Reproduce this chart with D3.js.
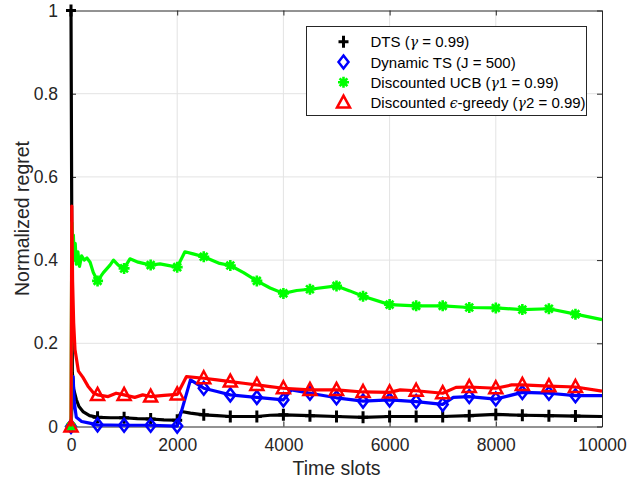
<!DOCTYPE html>
<html>
<head>
<meta charset="utf-8">
<title>Normalized regret</title>
<script src="https://d3js.org/d3.v7.min.js"></script>
<style>
*{ margin:0; padding:0; }
body{ background:#fff; }
svg{ display:block; font-family:"Liberation Sans", Arial, Helvetica, sans-serif; }
</style>
</head>
<body>
<script>
// data: [time slot, normalized regret]
var dts = [[0,1],[25,0.13],[50,0.09],[100,0.065],[150,0.048],[225,0.036],[350,0.026],[500,0.022],
  [750,0.021],[1000,0.021],[1250,0.019],[1500,0.018],[1750,0.016],[2000,0.015],[2080,0.036],
  [2250,0.032],[2500,0.028],[2750,0.026],[3000,0.024],[3500,0.024],[3750,0.027],[4000,0.028],
  [4500,0.026],[5000,0.024],[5500,0.022],[6000,0.024],[6500,0.024],[7000,0.024],[7500,0.026],
  [8000,0.029],[8500,0.027],[9000,0.026],[9500,0.025],[10000,0.024]];

var dynTS = [[0,0],[20,0.05],[40,0.12],[60,0.06],[100,0.022],[200,0.012],[350,0.008],[500,0.004],
  [1000,0.003],[1500,0.003],[2000,0.001],[2250,0.112],[2500,0.092],[2750,0.084],[3000,0.076],
  [3500,0.07],[4000,0.064],[4150,0.088],[4500,0.08],[5000,0.069],[5500,0.061],[6000,0.064],
  [6500,0.06],[7000,0.053],[7200,0.07],[7500,0.072],[8000,0.066],[8500,0.082],[9000,0.08],
  [9500,0.074],[10000,0.074]];

var dUCB = [[0,0],[15,0.49],[30,0.43],[45,0.46],[60,0.4],[80,0.44],[100,0.39],[130,0.42],[160,0.385],
  [200,0.41],[250,0.4],[300,0.405],[360,0.395],[420,0.37],[500,0.35],[610,0.37],[735,0.388],
  [800,0.4],[890,0.388],[1000,0.38],[1110,0.403],[1265,0.395],[1500,0.388],[1675,0.391],
  [2000,0.383],[2145,0.42],[2300,0.415],[2500,0.408],[2800,0.392],[3000,0.387],[3250,0.37],
  [3500,0.35],[3750,0.333],[4000,0.32],[4250,0.327],[4500,0.33],[5000,0.338],[5250,0.326],
  [5500,0.313],[6000,0.293],[6500,0.29],[7000,0.29],[7500,0.286],[8000,0.285],[8500,0.281],
  [9000,0.283],[9500,0.27],[10000,0.257]];

var dEps = [[0,0],[15,0.53],[30,0.35],[50,0.25],[75,0.185],[140,0.133],[225,0.118],[320,0.097],
  [420,0.081],[500,0.076],[700,0.072],[850,0.08],[1000,0.076],[1200,0.07],[1350,0.076],[1500,0.072],
  [1750,0.075],[2000,0.077],[2175,0.12],[2500,0.116],[2750,0.112],[3000,0.108],[3250,0.104],
  [3500,0.1],[3750,0.096],[4000,0.092],[4500,0.088],[5000,0.088],[5500,0.083],[6000,0.082],
  [6200,0.088],[6500,0.086],[7000,0.08],[7250,0.094],[7500,0.095],[8000,0.092],[8300,0.1],
  [8500,0.1],[9000,0.097],[9500,0.095],[10000,0.085]];

var xTicks = [0,2000,4000,6000,8000,10000];
var yTicks = [0,0.2,0.4,0.6,0.8,1];

var series = [
  {name:'dts',   data:dts,   color:'#000000', marker:'plus'},
  {name:'dyn',   data:dynTS, color:'#0000ff', marker:'diamond'},
  {name:'ucb',   data:dUCB,  color:'#00ff00', marker:'star'},
  {name:'eps',   data:dEps,  color:'#ff0000', marker:'triangle'}
];

var width = 640, height = 489;
var mLeft = 71, mRight = 602, mTop = 10.5, mBottom = 426.5;
var axisColor = '#262626';

var svg = d3.select('body').append('svg')
  .attr('width', width).attr('height', height);

var x = d3.scaleLinear().domain([0,10000]).range([mLeft,mRight]);
var y = d3.scaleLinear().domain([0,1]).range([mBottom,mTop]);

// grid
svg.append('g').selectAll('line').data(xTicks.slice(1,-1)).enter().append('line')
  .attr('x1', d=>x(d)).attr('x2', d=>x(d)).attr('y1', mTop).attr('y2', mBottom)
  .attr('stroke', '#e3e3e3').attr('stroke-width', 1);
svg.append('g').selectAll('line').data(yTicks.slice(1,-1)).enter().append('line')
  .attr('y1', d=>y(d)).attr('y2', d=>y(d)).attr('x1', mLeft).attr('x2', mRight)
  .attr('stroke', '#e3e3e3').attr('stroke-width', 1);

// axes with inward ticks on all sides
var fmtY = d => d === 0 ? '0' : (d === 1 ? '1' : d3.format('.1f')(d));
var gx = svg.append('g').attr('transform', 'translate(0,' + mBottom + ')')
  .call(d3.axisBottom(x).tickValues(xTicks).tickSizeInner(-5).tickSizeOuter(0).tickPadding(12).tickFormat(d3.format('d')));
var gxt = svg.append('g').attr('transform', 'translate(0,' + mTop + ')')
  .call(d3.axisTop(x).tickValues(xTicks).tickSizeInner(-5).tickSizeOuter(0).tickFormat(''));
var gy = svg.append('g').attr('transform', 'translate(' + mLeft + ',0)')
  .call(d3.axisLeft(y).tickValues(yTicks).tickSizeInner(-5).tickSizeOuter(0).tickPadding(13).tickFormat(fmtY));
var gyr = svg.append('g').attr('transform', 'translate(' + mRight + ',0)')
  .call(d3.axisRight(y).tickValues(yTicks).tickSizeInner(-5).tickSizeOuter(0).tickFormat(''));
[gx,gxt,gy,gyr].forEach(function(g){
  g.selectAll('path,line').attr('stroke', axisColor);
  g.selectAll('text').attr('fill', axisColor).style('font-size','17.5px')
    .style('font-family','"Liberation Sans", Arial, sans-serif');
});

// markers
function drawMarker(g, type, color, cx, cy) {
  if (type === 'plus') {
    g.append('path').attr('d', 'M' + (cx-5) + ',' + cy + 'H' + (cx+5) + 'M' + cx + ',' + (cy-6) + 'V' + (cy+6))
      .attr('stroke', color).attr('stroke-width', 3).attr('fill', 'none');
  } else if (type === 'diamond') {
    g.append('path').attr('d', 'M' + cx + ',' + (cy-6.5) + 'L' + (cx+5) + ',' + cy + 'L' + cx + ',' + (cy+6.5) + 'L' + (cx-5) + ',' + cy + 'Z')
      .attr('stroke', color).attr('stroke-width', 2.5).attr('fill', 'none');
  } else if (type === 'triangle') {
    g.append('path').attr('d', 'M' + cx + ',' + (cy-7) + 'L' + (cx+6.5) + ',' + (cy+5) + 'L' + (cx-6.5) + ',' + (cy+5) + 'Z')
      .attr('stroke', color).attr('stroke-width', 2.5).attr('fill', 'none').attr('stroke-linejoin','miter');
  } else if (type === 'star') {
    var r = 5.5, p = '';
    for (var k = 0; k < 4; k++) {
      var a = k * Math.PI / 4;
      p += 'M' + (cx - r*Math.cos(a)) + ',' + (cy - r*Math.sin(a)) + 'L' + (cx + r*Math.cos(a)) + ',' + (cy + r*Math.sin(a));
    }
    g.append('path').attr('d', p).attr('stroke', color).attr('stroke-width', 2.6).attr('fill', 'none');
    g.append('circle').attr('cx', cx).attr('cy', cy).attr('r', 3.2).attr('fill', color);
  }
}

var line = d3.line().x(d=>x(d[0])).y(d=>y(d[1]));
var plot = svg.append('g');
series.forEach(function(s){
  var g = plot.append('g');
  g.append('path').datum(s.data).attr('d', line)
    .attr('fill', 'none').attr('stroke', s.color).attr('stroke-width', 3.2)
    .attr('stroke-linejoin', 'round');
  s.data.filter(d => d[0] % 500 === 0 && d[0] < 10000).forEach(function(d){
    drawMarker(g, s.marker, s.color, x(d[0]), y(d[1]));
  });
});

// axis labels
svg.append('text').attr('x', (mLeft+mRight)/2).attr('y', 475).attr('text-anchor','middle')
  .attr('fill', axisColor).style('font-size','19.5px').text('Time slots');
svg.append('text').attr('transform', 'translate(29,' + ((mTop+mBottom)/2) + ') rotate(-90)')
  .attr('text-anchor','middle').attr('fill', axisColor).style('font-size','19.5px').text('Normalized regret');

// legend
var lg = svg.append('g');
lg.append('rect').attr('x', 306.5).attr('y', 26.5).attr('width', 280).attr('height', 89)
  .attr('fill', '#fff').attr('stroke', axisColor).attr('stroke-width', 1);
var legendRows = [
  {s:series[0], parts:[['DTS (',0],['\u03b3',1],[' = 0.99)',0]]},
  {s:series[1], parts:[['Dynamic TS (J = 500)',0]]},
  {s:series[2], parts:[['Discounted UCB (',0],['\u03b3',1],['1 = 0.99)',0]]},
  {s:series[3], parts:[['Discounted ',0],['\u03f5',1],['-greedy (',0],['\u03b3',1],['2 = 0.99)',0]]}
];
legendRows.forEach(function(r, i){
  var cy = 41.7 + i * 20.3;
  drawMarker(lg, r.s.marker, r.s.color, 343.5, cy);
  var t = lg.append('text').attr('x', 370.5).attr('y', cy + 5.5).attr('fill', '#000')
    .style('font-size', '15px');
  r.parts.forEach(function(p){
    var ts = t.append('tspan').text(p[0]);
    if (p[1]) ts.style('font-style','italic').style('font-family','"DejaVu Serif", serif').style('font-size','14px');
  });
});
</script>
</body>
</html>
